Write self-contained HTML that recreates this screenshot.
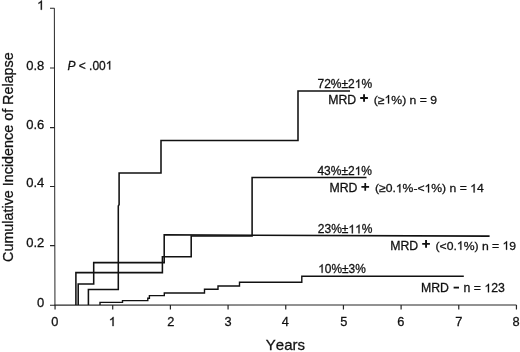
<!DOCTYPE html>
<html><head><meta charset="utf-8">
<style>
html,body{margin:0;padding:0;background:#fff;}
svg{display:block;will-change:transform;}
text{font-family:"Liberation Sans",sans-serif;fill:#111;stroke:#111;stroke-width:0.28px;font-kerning:none;white-space:pre;}
.one{fill:#111;stroke:#111;stroke-width:0.28px;vector-effect:non-scaling-stroke;}
</style></head><body>
<svg width="520" height="352" viewBox="0 0 520 352">
<rect width="520" height="352" fill="#fff"/>
<!-- axes -->
<g stroke="#262626" stroke-width="1.2" fill="none">
<path d="M54.35 8.2 L54.95 305.1" stroke-width="1.0"/>
<path d="M54.5 305.1 L516.45 304.95" stroke-width="1.1"/>
<path d="M50 8.30H54.45 M50 67.90H54.57 M50 127.60H54.69 M50 186.40H54.81 M50 245.60H54.93 M50 305.20H55.05" stroke-width="1.05"/>
<path d="M55.05 305V309.6 M112.72 305V309.6 M170.40 305V309.6 M228.07 305V309.6 M285.75 305V309.6 M343.43 305V309.6 M401.10 305V309.6 M458.77 305V309.6 M516.45 305V309.6"/>
</g>
<!-- curves -->
<g stroke="#111" stroke-width="1.55" fill="none" stroke-linejoin="miter">
<path d="M88.4 305 V289.5 H118.3 V206 L119.1 204.6 V173 H161 V140.4 H298 V91 H350"/>
<path d="M75.9 305 V272.6 H162.4 V256.8 H191.2 V235.9 H252.1 V177.5 H366.5"/>
<path d="M78.2 305 V283.9 H93.7 V262.6 H164.2 V234.8 L489.6 236.1"/>
<path d="M100 305 V302.4 H122.5 V300.6 H147.8 V298.3 H149.4 V295.6 H164.3 V293 H204.5 V289.3 H218 V286 H239.5 V282.3 H301.8 V276.3 H463.8" stroke-width="1.4"/>
</g>
<!-- text -->
<g transform="translate(44.3,9.8)"><text id="t0" font-size="13" text-anchor="end"><tspan style="fill:none;stroke:none">1</tspan></text><path class="one" d="M763 0H583V1147Q518 1085 412.5 1023T223 930V1104Q374 1175 487 1276T647 1472H763Z" transform="translate(-7.23,0.00) scale(0.006348,-0.006348)"/></g>
<g transform="translate(44.3,69.6)"><text id="t1" font-size="13" text-anchor="end">0.8</text></g>
<g transform="translate(44.3,129.1)"><text id="t2" font-size="13" text-anchor="end">0.6</text></g>
<g transform="translate(44.3,187.4)"><text id="t3" font-size="13" text-anchor="end">0.4</text></g>
<g transform="translate(44.3,247.2)"><text id="t4" font-size="13" text-anchor="end">0.2</text></g>
<g transform="translate(44.3,307.1)"><text id="t5" font-size="13" text-anchor="end">0</text></g>
<g transform="translate(54.8,326.1)"><text id="t6" font-size="12.8" text-anchor="middle">0</text></g>
<g transform="translate(112.4,326.1)"><text id="t7" font-size="12.8" text-anchor="middle"><tspan style="fill:none;stroke:none">1</tspan></text><path class="one" d="M763 0H583V1147Q518 1085 412.5 1023T223 930V1104Q374 1175 487 1276T647 1472H763Z" transform="translate(-3.56,0.00) scale(0.006250,-0.006250)"/></g>
<g transform="translate(170.7,326.1)"><text id="t8" font-size="12.8" text-anchor="middle">2</text></g>
<g transform="translate(228.1,326.1)"><text id="t9" font-size="12.8" text-anchor="middle">3</text></g>
<g transform="translate(285.4,326.1)"><text id="t10" font-size="12.8" text-anchor="middle">4</text></g>
<g transform="translate(343.7,326.1)"><text id="t11" font-size="12.8" text-anchor="middle">5</text></g>
<g transform="translate(400.8,326.1)"><text id="t12" font-size="12.8" text-anchor="middle">6</text></g>
<g transform="translate(458.8,326.1)"><text id="t13" font-size="12.8" text-anchor="middle">7</text></g>
<g transform="translate(516.1,326.1)"><text id="t14" font-size="12.8" text-anchor="middle">8</text></g>
<g transform="translate(285.4,350.1)"><text id="t15" font-size="15" text-anchor="middle">Years</text></g>
<g transform="translate(12.5,157.1) rotate(-90)"><text id="t16" font-size="14.35" text-anchor="middle">Cumulative Incidence of Relapse</text></g>
<g transform="translate(67.4,69.5)"><text id="t17" font-size="12.0"><tspan font-style="italic">P</tspan> &lt; .00<tspan style="fill:none;stroke:none">1</tspan></text><path class="one" d="M763 0H583V1147Q518 1085 412.5 1023T223 930V1104Q374 1175 487 1276T647 1472H763Z" transform="translate(38.36,0.00) scale(0.005859,-0.005859)"/></g>
<g transform="translate(317.5,87.9)"><text id="t18" font-size="12">72%±2<tspan style="fill:none;stroke:none">1</tspan>%</text><path class="one" d="M763 0H583V1147Q518 1085 412.5 1023T223 930V1104Q374 1175 487 1276T647 1472H763Z" transform="translate(37.27,0.00) scale(0.005859,-0.005859)"/></g>
<g transform="translate(317.4,175.0)"><text id="t19" font-size="12">43%±2<tspan style="fill:none;stroke:none">1</tspan>%</text><path class="one" d="M763 0H583V1147Q518 1085 412.5 1023T223 930V1104Q374 1175 487 1276T647 1472H763Z" transform="translate(37.27,0.00) scale(0.005859,-0.005859)"/></g>
<g transform="translate(317.8,233.3)"><text id="t20" font-size="12.0">23%±<tspan style="fill:none;stroke:none">1</tspan><tspan style="fill:none;stroke:none">1</tspan>%</text><path class="one" d="M763 0H583V1147Q518 1085 412.5 1023T223 930V1104Q374 1175 487 1276T647 1472H763Z" transform="translate(30.59,0.00) scale(0.005859,-0.005859)"/><path class="one" d="M763 0H583V1147Q518 1085 412.5 1023T223 930V1104Q374 1175 487 1276T647 1472H763Z" transform="translate(37.27,0.00) scale(0.005859,-0.005859)"/></g>
<g transform="translate(318.2,272.8)"><text id="t21" font-size="11.9"><tspan style="fill:none;stroke:none">1</tspan>0%±3%</text><path class="one" d="M763 0H583V1147Q518 1085 412.5 1023T223 930V1104Q374 1175 487 1276T647 1472H763Z" transform="translate(0.00,0.00) scale(0.005811,-0.005811)"/></g>
<g transform="translate(328.2,103.5) scale(1,0.965)"><text id="t22" font-size="12.3">MRD</text></g>
<g transform="translate(373.8,103.5) scale(1,0.965)"><text id="t23" font-size="12.2">(≥<tspan style="fill:none;stroke:none">1</tspan>%) n = 9</text><path class="one" d="M763 0H583V1147Q518 1085 412.5 1023T223 930V1104Q374 1175 487 1276T647 1472H763Z" transform="translate(10.73,0.00) scale(0.005957,-0.005957)"/></g>
<g transform="translate(329.4,192.4) scale(1,0.965)"><text id="t24" font-size="12.3">MRD</text></g>
<g transform="translate(375.0,192.4) scale(1,0.965)"><text id="t25" font-size="12.17">(≥0.<tspan style="fill:none;stroke:none">1</tspan>%-&lt;<tspan style="fill:none;stroke:none">1</tspan>%) n = <tspan style="fill:none;stroke:none">1</tspan>4</text><path class="one" d="M763 0H583V1147Q518 1085 412.5 1023T223 930V1104Q374 1175 487 1276T647 1472H763Z" transform="translate(20.83,0.00) scale(0.005942,-0.005942)"/><path class="one" d="M763 0H583V1147Q518 1085 412.5 1023T223 930V1104Q374 1175 487 1276T647 1472H763Z" transform="translate(49.53,0.00) scale(0.005942,-0.005942)"/><path class="one" d="M763 0H583V1147Q518 1085 412.5 1023T223 930V1104Q374 1175 487 1276T647 1472H763Z" transform="translate(95.12,0.00) scale(0.005942,-0.005942)"/></g>
<g transform="translate(390.2,249.7) scale(1,0.965)"><text id="t26" font-size="12.3">MRD</text></g>
<g transform="translate(435.5,249.7) scale(1,0.965)"><text id="t27" font-size="12.2">(&lt;0.<tspan style="fill:none;stroke:none">1</tspan>%) n = <tspan style="fill:none;stroke:none">1</tspan>9</text><path class="one" d="M763 0H583V1147Q518 1085 412.5 1023T223 930V1104Q374 1175 487 1276T647 1472H763Z" transform="translate(21.32,0.00) scale(0.005957,-0.005957)"/><path class="one" d="M763 0H583V1147Q518 1085 412.5 1023T223 930V1104Q374 1175 487 1276T647 1472H763Z" transform="translate(67.02,0.00) scale(0.005957,-0.005957)"/></g>
<g transform="translate(420.9,292.3) scale(1,0.965)"><text id="t28" font-size="12.3">MRD</text></g>
<g transform="translate(463.6,292.3) scale(1,0.965)"><text id="t29" font-size="12.3">n = <tspan style="fill:none;stroke:none">1</tspan>23</text><path class="one" d="M763 0H583V1147Q518 1085 412.5 1023T223 930V1104Q374 1175 487 1276T647 1472H763Z" transform="translate(20.83,0.00) scale(0.006006,-0.006006)"/></g>
<!-- plus / minus signs -->
<g stroke="#111" stroke-width="1.9" fill="none">
<path d="M360.2 98H367.9 M364.05 94.2V101.8"/>
<path d="M361.4 186.85H369.1 M365.25 183V190.7" stroke-width="1.7"/>
<path d="M422.2 243.9H429.9 M426.05 240.1V247.7"/>
<path d="M453.6 287.6H459" stroke-width="1.8"/>
</g>
</svg>
</body></html>
